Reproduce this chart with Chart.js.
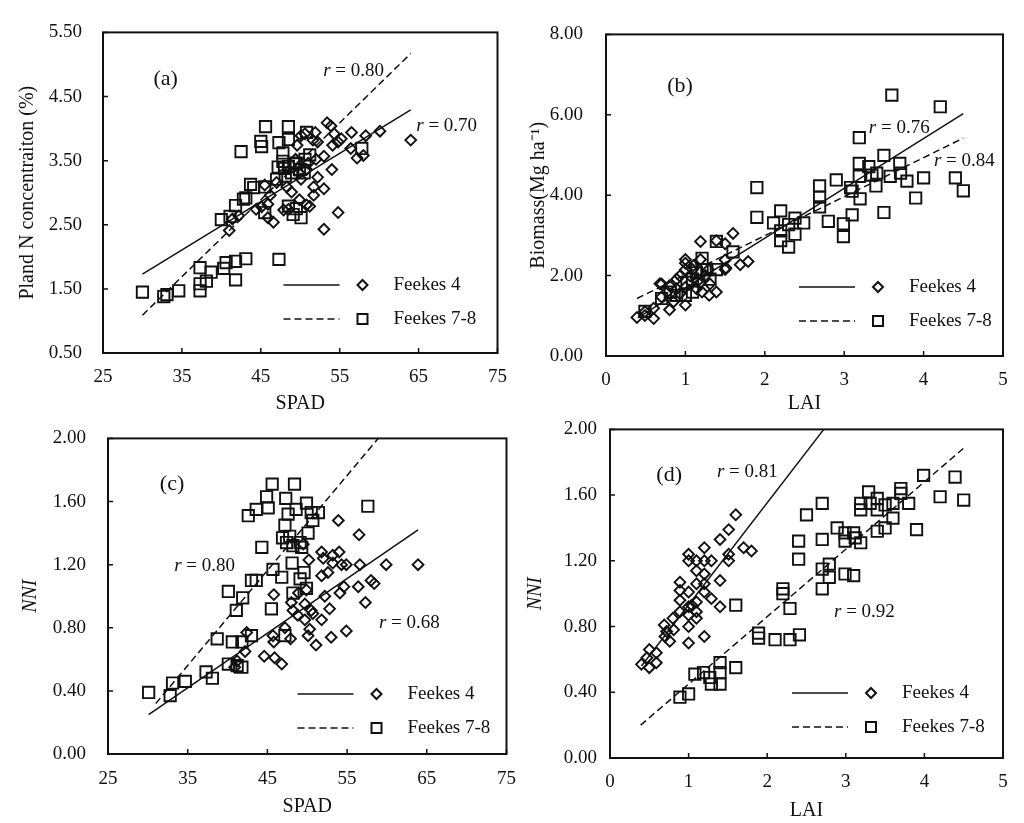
<!DOCTYPE html>
<html>
<head>
<meta charset="utf-8">
<title>SPAD and LAI against plant N, biomass and NNI</title>
<script src="https://cdn.jsdelivr.net/npm/chart.js@4.4.0/dist/chart.umd.min.js"></script>
<style>
  html, body { margin: 0; padding: 0; background: #fff; }
  #wrap { position: relative; width: 1024px; height: 823px; overflow: hidden; }
  #wrap canvas { position: absolute; }
</style>
</head>
<body>
<div id="wrap">
  <canvas id="panelA" width="520" height="418" style="left:0px;top:0px"></canvas>
  <canvas id="panelB" width="512" height="418" style="left:512px;top:0px"></canvas>
  <canvas id="panelC" width="530" height="418" style="left:0px;top:405px"></canvas>
  <canvas id="panelD" width="512" height="418" style="left:512px;top:405px"></canvas>
</div>
<script>
const INK = '#111';
const SERIF = '"Liberation Serif", "Times New Roman", serif';

// series names
const seriesNames = ['Feekes 4', 'Feekes 7-8'];

// tick labels
const spadTicks = [25, 35, 45, 55, 65, 75];
const laiTicks = [0, 1, 2, 3, 4, 5];
const nTicks = [0.5, 1.5, 2.5, 3.5, 4.5, 5.5];
const bioTicks = [0, 2, 4, 6, 8];
const nniTicks = [0, 0.4, 0.8, 1.2, 1.6, 2.0];

// (a) SPAD vs plant N concentration
const spadN_F4 = [[64.0,3.82],[60.1,3.96],[58.3,3.89],[58.0,3.58],[57.2,3.54],[56.5,3.94],[56.4,3.69],[54.8,3.79],
  [54.8,2.69],[54.0,3.36],[54.1,3.74],[53.4,4.09],[53.9,4.04],[54.3,3.92],[53.0,3.57],[53.0,3.06],[53.0,2.43],
  [52.2,3.24],[51.9,3.94],[52.2,3.79],[51.7,3.09],[51.7,2.96],[51.2,2.79],[50.6,3.92],[50.1,3.89],[49.6,3.74],
  [49.9,2.89],[48.9,3.01],[48.3,3.09],[47.9,2.73],[46.6,2.54],[45.9,2.61],[45.9,2.82],[45.1,2.78],[44.4,2.74],
  [45.5,3.12],[46.2,2.96],[47.0,3.16],[41.0,2.41],[41.4,2.59],[42.2,2.64],[50.1,3.21],[50.8,3.36],[51.0,3.46],
  [49.8,3.31],[49.4,3.52],[52.0,3.52],[51.6,3.82],[55.2,3.84],[50.8,2.81],[48.5,2.74]];
const spadN_F78 = [[30.0,1.45],[32.7,1.38],[33.1,1.41],[34.6,1.47],[37.3,1.83],[37.3,1.58],[37.3,1.47],[38.1,1.62],
  [38.7,1.76],[40.3,1.82],[40.6,1.91],[41.8,1.93],[43.1,1.97],[41.8,1.64],[47.3,1.96],[40.0,2.58],[41.1,2.63],
  [41.8,2.80],[42.5,3.64],[43.1,2.92],[43.7,3.13],[44.1,3.08],[45.0,3.80],[45.1,3.72],[45.6,4.03],[47.3,3.78],
  [48.5,4.03],[48.5,3.83],[47.8,3.62],[45.5,3.09],[45.5,2.69],[47.0,3.21],[47.2,3.40],[47.8,3.49],[48.5,3.41],
  [48.9,3.31],[49.5,3.46],[49.9,3.36],[50.6,3.52],[51.2,3.59],[48.5,2.79],[49.1,2.66],[50.1,2.61],[49.5,2.75],
  [57.8,3.69],[50.5,3.31],[48.1,3.26],[50.8,3.94],[48.0,3.38],[49.2,3.45],[42.8,2.90]];
const spadN_fit4 = [[30.0,1.73],[64.0,4.29]];
const spadN_fit78 = [[30.0,1.09],[64.0,5.17]];

// (b) LAI vs biomass
const laiB_F4 = [[0.39,0.96],[0.49,1.01],[0.60,0.93],[0.60,1.19],[0.70,1.79],[0.70,1.47],[0.80,1.15],[0.80,1.75],
  [0.89,1.91],[0.89,1.67],[1.00,2.40],[1.00,2.15],[1.00,1.27],[1.00,1.71],[1.09,2.15],[1.19,2.85],[1.19,2.40],
  [1.19,1.83],[1.30,1.51],[1.39,1.59],[1.39,2.87],[1.50,2.79],[1.50,2.15],[1.60,3.05],[1.69,2.27],[1.79,2.35],
  [1.50,2.39],[1.31,1.79],[1.06,1.99],[1.14,1.67],[1.29,2.15],[1.21,1.59],[0.93,1.55],[0.85,1.35],[0.93,1.99],
  [1.00,2.31],[0.68,1.80],[0.77,1.59],[0.49,1.10],[1.51,2.19],[1.10,2.25],[1.25,2.00],[1.15,1.85]];
const laiB_F78 = [[3.60,6.49],[4.21,6.20],[3.19,5.43],[3.50,4.99],[3.19,4.79],[3.70,4.79],[3.31,4.71],[3.19,4.47],
  [3.41,4.55],[3.58,4.47],[3.71,4.55],[4.00,4.43],[4.40,4.43],[4.50,4.11],[3.79,4.35],[3.90,3.93],[3.50,3.57],
  [3.40,4.23],[3.20,3.91],[3.08,4.19],[3.10,3.51],[2.99,3.29],[2.99,2.97],[2.90,4.38],[2.69,4.23],[2.69,3.95],
  [2.69,3.71],[2.80,3.35],[2.49,3.31],[2.38,3.43],[2.38,3.03],[2.30,3.27],[2.30,2.71],[2.20,3.61],[2.20,2.87],
  [2.20,3.11],[2.11,3.31],[1.90,4.19],[1.90,3.45],[1.60,2.59],[1.39,2.85],[1.39,2.15],[1.21,2.43],[1.21,2.15],
  [1.09,1.91],[1.09,1.59],[1.02,1.83],[1.31,1.91],[1.27,2.15],[0.89,1.51],[0.81,1.59],[0.70,1.43],[0.49,1.11],
  [1.14,2.07],[1.00,1.51],[3.10,4.10],[3.35,4.50]];
const laiB_fit4 = [[0.40,0.95],[4.50,6.03]];
const laiB_fit78 = [[0.39,1.43],[4.50,5.42]];

// (c) SPAD vs NNI
const spadNNI_F4 = [[63.9,1.20],[59.9,1.20],[56.6,1.20],[56.5,1.39],[58.0,1.10],[58.4,1.08],[57.3,0.96],[56.4,1.06],
  [54.9,0.78],[54.6,1.06],[54.1,1.02],[53.9,1.48],[54.0,1.28],[53.2,1.26],[54.3,1.20],[54.9,1.20],[53.2,1.21],
  [52.6,1.15],[51.8,1.13],[51.8,1.28],[52.0,1.24],[52.2,1.00],[52.8,0.92],[53.0,0.74],[51.1,0.69],[51.8,0.85],
  [50.7,0.89],[50.3,0.79],[50.1,0.75],[50.2,1.23],[49.7,0.95],[49.7,0.85],[50.5,0.91],[48.8,0.88],[48.2,0.91],
  [48.0,0.96],[48.9,1.02],[49.9,1.04],[49.5,1.33],[47.9,0.73],[47.2,0.80],[45.8,1.01],[45.7,0.75],[45.8,0.71],
  [46.8,0.57],[45.9,0.61],[44.6,0.62],[42.4,0.77],[42.2,0.65],[41.2,0.59],[40.9,0.55]];
const spadNNI_F78 = [[30.1,0.39],[32.8,0.37],[33.1,0.45],[34.7,0.46],[37.3,0.52],[38.1,0.48],[38.7,0.73],[40.6,0.71],
  [41.8,0.71],[40.1,0.57],[41.2,0.56],[41.8,0.55],[43.0,0.75],[40.1,1.03],[41.9,0.99],[41.1,0.91],[43.0,1.10],
  [43.6,1.10],[44.3,1.31],[42.6,1.51],[43.6,1.55],[44.9,1.63],[45.1,1.56],[45.6,1.71],[48.4,1.71],[47.3,1.62],
  [48.6,1.55],[49.9,1.59],[50.5,1.53],[50.7,1.48],[51.4,1.53],[47.6,1.52],[47.2,1.45],[50.1,1.40],[46.9,1.37],
  [47.4,1.34],[47.8,1.38],[48.2,1.32],[49.1,1.34],[49.3,1.31],[48.1,1.21],[45.7,1.17],[46.8,1.12],[49.6,1.15],
  [49.1,1.11],[48.2,1.02],[45.5,0.92],[47.2,0.75],[57.6,1.57],[49.9,1.05]];
const spadNNI_fit4 = [[30.1,0.25],[63.9,1.42]];
const spadNNI_fit78 = [[31.0,0.32],[58.9,2.00]];

// (d) LAI vs NNI
const laiNNI_F4 = [[0.40,0.57],[0.50,0.55],[0.59,0.58],[0.50,0.66],[0.59,0.64],[0.47,0.61],[0.69,0.81],[0.70,0.74],
  [0.76,0.71],[0.81,0.78],[0.80,0.85],[0.72,0.77],[0.89,0.89],[0.89,0.96],[0.89,1.02],[0.89,1.07],[1.00,1.24],
  [1.00,1.20],[1.00,1.01],[1.00,0.92],[1.00,0.87],[1.00,0.80],[1.00,0.70],[1.10,1.20],[1.10,1.14],[1.10,1.06],
  [1.10,0.95],[1.10,0.89],[1.10,0.85],[1.20,1.28],[1.20,1.20],[1.20,1.12],[1.20,1.06],[1.20,1.01],[1.20,0.74],
  [1.29,1.20],[1.29,0.97],[1.40,1.33],[1.40,1.08],[1.40,0.92],[1.51,1.39],[1.51,1.24],[1.51,1.20],[1.60,1.48],
  [1.70,1.28],[1.80,1.26],[1.04,0.93]];
const laiNNI_F78 = [[0.89,0.37],[1.00,0.39],[1.08,0.51],[1.19,0.52],[1.27,0.49],[1.29,0.45],[1.40,0.58],[1.40,0.52],
  [1.40,0.45],[1.60,0.55],[1.60,0.93],[1.89,0.76],[1.89,0.73],[2.10,0.72],[2.29,0.72],[2.41,0.75],[2.29,0.91],
  [2.20,1.03],[2.20,1.00],[2.40,1.21],[2.40,1.32],[2.70,1.33],[2.70,1.55],[2.50,1.48],[2.70,1.15],[2.70,1.03],
  [2.79,1.18],[2.79,1.10],[2.89,1.40],[2.99,1.37],[2.99,1.32],[2.99,1.12],[3.10,1.11],[3.10,1.37],[3.12,1.34],
  [3.19,1.31],[3.19,1.55],[3.19,1.51],[3.29,1.62],[3.31,1.55],[3.40,1.38],[3.40,1.58],[3.40,1.51],[3.50,1.54],
  [3.50,1.40],[3.60,1.46],[3.60,1.55],[3.70,1.64],[3.70,1.61],[3.80,1.55],[3.90,1.39],[3.99,1.72],[4.20,1.59],
  [4.39,1.71],[4.50,1.57]];
const laiNNI_fit4 = [[0.40,0.56],[2.72,2.00]];
const laiNNI_fit78 = [[0.39,0.20],[4.51,1.89]];

const toXY = pairs => pairs.map(p => ({ x: p[0], y: p[1] }));

// box round the plot area with inward tick marks
const framePlugin = {
  id: 'frame',
  afterDatasetsDraw(chart) {
    const { ctx, chartArea: a, scales: { x, y } } = chart;
    ctx.save();
    ctx.strokeStyle = INK;
    ctx.lineWidth = 1.5;
    ctx.beginPath();
    x.ticks.forEach(t => {
      const px = x.getPixelForValue(t.value);
      ctx.moveTo(px, a.bottom);
      ctx.lineTo(px, a.bottom - 5);
    });
    y.ticks.forEach(t => {
      const py = y.getPixelForValue(t.value);
      ctx.moveTo(a.left, py);
      ctx.lineTo(a.left + 5, py);
    });
    ctx.stroke();
    ctx.lineWidth = 2;
    ctx.strokeRect(a.left, a.top, a.right - a.left, a.bottom - a.top);
    ctx.restore();
  }
};

// panel letter and r values
const notesPlugin = {
  id: 'notes',
  afterDatasetsDraw(chart, args, opts) {
    const { ctx, scales: { x, y } } = chart;
    ctx.save();
    ctx.fillStyle = INK;
    ctx.textBaseline = 'middle';
    ctx.textAlign = 'left';
    (opts.items || []).forEach(it => {
      let px = x.getPixelForValue(it.x);
      const py = y.getPixelForValue(it.y);
      if (it.r) {
        ctx.font = 'italic 19px ' + SERIF;
        ctx.fillText('r', px, py);
        px += ctx.measureText('r').width;
        ctx.font = '19px ' + SERIF;
        ctx.fillText(' = ' + it.r, px, py);
      } else {
        ctx.font = '22px ' + SERIF;
        ctx.fillText(it.text, px, py);
      }
    });
    ctx.restore();
  }
};

// legend inside the plot, bottom right
const keyPlugin = {
  id: 'key',
  afterDatasetsDraw(chart, args, opts) {
    const { ctx, chartArea: a } = chart;
    const x0 = a.right + opts.dx;
    ctx.save();
    ctx.strokeStyle = INK;
    ctx.fillStyle = INK;
    ctx.font = '19px ' + SERIF;
    ctx.textBaseline = 'middle';
    seriesNames.forEach((name, i) => {
      const yy = a.bottom + opts.dy + i * 34;
      ctx.lineWidth = 1.5;
      ctx.setLineDash(i === 0 ? [] : [7, 4]);
      ctx.beginPath();
      ctx.moveTo(x0, yy);
      ctx.lineTo(x0 + 56, yy);
      ctx.stroke();
      ctx.setLineDash([]);
      ctx.lineWidth = 2;
      const mx = x0 + 79;
      ctx.beginPath();
      if (i === 0) {
        ctx.moveTo(mx, yy - 5);
        ctx.lineTo(mx + 5, yy);
        ctx.lineTo(mx, yy + 5);
        ctx.lineTo(mx - 5, yy);
        ctx.closePath();
      } else {
        ctx.rect(mx - 5, yy - 5, 10, 10);
      }
      ctx.stroke();
      ctx.fillText(name, x0 + 110, yy);
    });
    ctx.restore();
  }
};

function makePanel(id, p) {
  const ctx = document.getElementById(id).getContext('2d');
  const pts = (data, style, radius) => ({
    data: toXY(data),
    showLine: false,
    pointStyle: style,
    pointRadius: radius,
    pointBorderColor: INK,
    pointBackgroundColor: 'rgba(0,0,0,0)',
    pointBorderWidth: 1.9
  });
  const fit = (data, dash) => ({
    data: toXY(data),
    showLine: true,
    borderColor: INK,
    borderWidth: 1.5,
    borderDash: dash,
    pointRadius: 0,
    fill: false
  });
  return new Chart(ctx, {
    type: 'scatter',
    data: {
      datasets: [
        Object.assign({ label: seriesNames[0] }, pts(p.f4, 'rectRot', 5.4)),
        Object.assign({ label: seriesNames[1] }, pts(p.f78, 'rect', 8)),
        fit(p.fit4, []),
        fit(p.fit78, [7, 4])
      ]
    },
    options: {
      responsive: false,
      animation: false,
      devicePixelRatio: 1,
      events: [],
      layout: { padding: { top: p.pt, right: p.pr, left: 0, bottom: 0 } },
      plugins: {
        legend: { display: false },
        tooltip: { enabled: false },
        notes: { items: p.notes },
        key: { dx: p.keyDx, dy: p.keyDy }
      },
      scales: {
        x: {
          type: 'linear',
          min: p.xTicks[0],
          max: p.xTicks[p.xTicks.length - 1],
          afterBuildTicks: s => { s.ticks = p.xTicks.map(v => ({ value: v })); },
          afterFit: s => { s.height = p.xh; },
          grid: { display: false, drawTicks: false },
          border: { display: false },
          ticks: { padding: p.xpad, color: INK, autoSkip: false, maxRotation: 0,
                   font: { family: SERIF, size: 19 }, callback: v => String(v) },
          title: { display: true, text: p.xTitle, color: INK,
                   font: { family: SERIF, size: 20 }, padding: { top: 0, bottom: p.xtp } }
        },
        y: {
          type: 'linear',
          min: p.yTicks[0],
          max: p.yTicks[p.yTicks.length - 1],
          afterBuildTicks: s => { s.ticks = p.yTicks.map(v => ({ value: v })); },
          afterFit: s => { s.width = p.yw; },
          grid: { display: false, drawTicks: false },
          border: { display: false },
          ticks: { padding: p.ypad, color: INK, autoSkip: false,
                   font: { family: SERIF, size: 19 }, callback: v => Number(v).toFixed(2) },
          title: { display: true, text: p.yTitle, color: INK,
                   font: { family: SERIF, size: 20, style: p.yItalic ? 'italic' : 'normal' },
                   padding: { top: p.ytp, bottom: 0 } }
        }
      }
    },
    plugins: [framePlugin, notesPlugin, keyPlugin]
  });
}

makePanel('panelA', {
  f4: spadN_F4, f78: spadN_F78, fit4: spadN_fit4, fit78: spadN_fit78,
  xTicks: spadTicks, yTicks: nTicks, xTitle: 'SPAD', yTitle: 'Pland N concentraiton (%)',
  pt: 22, pr: 19, yw: 103, xh: 65, xpad: 13, ypad: 21, xtp: 2, ytp: 16,
  keyDx: -214, keyDy: -68,
  notes: [{ x: 31.4, y: 4.77, text: '(a)' }, { x: 52.9, y: 4.90, r: '0.80' }, { x: 64.7, y: 4.04, r: '0.70' }]
});

makePanel('panelB', {
  f4: laiB_F4, f78: laiB_F78, fit4: laiB_fit4, fit78: laiB_fit78,
  xTicks: laiTicks, yTicks: bioTicks, xTitle: 'LAI', yTitle: 'Biomass(Mg ha\u207B\u00B9)',
  pt: 23, pr: 21, yw: 94, xh: 62, xpad: 13, ypad: 23, xtp: 2, ytp: 15,
  keyDx: -204, keyDy: -69,
  notes: [{ x: 0.77, y: 6.70, text: '(b)' }, { x: 3.31, y: 5.68, r: '0.76' }, { x: 4.13, y: 4.85, r: '0.84' }]
});

makePanel('panelC', {
  f4: spadNNI_F4, f78: spadNNI_F78, fit4: spadNNI_fit4, fit78: spadNNI_fit78,
  xTicks: spadTicks, yTicks: nniTicks, xTitle: 'SPAD', yTitle: 'NNI', yItalic: true,
  pt: 18, pr: 23, yw: 108, xh: 69, xpad: 14, ypad: 22, xtp: 4, ytp: 19,
  keyDx: -209, keyDy: -60,
  notes: [{ x: 31.5, y: 1.71, text: '(c)' }, { x: 33.3, y: 1.19, r: '0.80' }, { x: 59.0, y: 0.83, r: '0.68' }]
});

makePanel('panelD', {
  f4: laiNNI_F4, f78: laiNNI_F78, fit4: laiNNI_fit4, fit78: laiNNI_fit78,
  xTicks: laiTicks, yTicks: nniTicks, xTitle: 'LAI', yTitle: 'NNI', yItalic: true,
  pt: 18, pr: 21, yw: 98, xh: 65, xpad: 13, ypad: 13, xtp: 0, ytp: 12,
  keyDx: -211, keyDy: -65,
  notes: [{ x: 0.59, y: 1.72, text: '(d)' }, { x: 1.36, y: 1.74, r: '0.81' }, { x: 2.85, y: 0.89, r: '0.92' }]
});
</script>
</body>
</html>
